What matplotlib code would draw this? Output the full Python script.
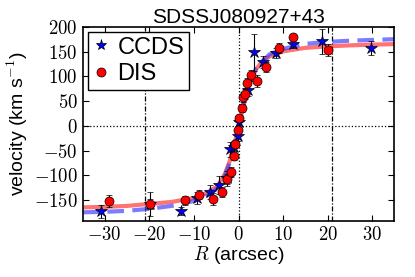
"""Rotation curve of SDSSJ080927+43: CCDS and DIS long-slit velocities."""

import matplotlib

matplotlib.use("Agg")
from matplotlib import pyplot as plt
from matplotlib.lines import Line2D
from matplotlib.ticker import FuncFormatter, MultipleLocator

# CCDS measurements
ccds_r = [-30.8, -19.9, -13.0, -9.3, -6.5, -4.4, -2.6, -1.9, -1.1, -0.2, 0.2, 2.2, 3.4, 5.6, 8.4, 12.3, 18.7, 29.7]
ccds_v = [-173, -158, -172, -146, -134, -119, -106, -47, -42, -21, 7, 73, 149, 130, 147, 166, 171, 157]
ccds_err = [13, 25, 8, 12, 14, 18, 15, 15, 12, 10, 10, 12, 38, 12, 10, 8, 25, 14]

# DIS measurements
dis_r = [-29.0, -19.9, -11.9, -8.9, -5.7, -3.6, -2.5, -1.6, -1.0, -0.7, -0.2, 0.2, 0.7, 1.0, 1.5, 2.0, 2.8, 4.1, 6.2, 9.0, 12.3, 20.0]
dis_v = [-152, -159, -151, -139, -148, -134, -107, -94, -60, -37, -9, 15, 36, 58, 65, 86, 102, 91, 120, 157, 179, 153]
dis_err = [12, 10, 10, 10, 12, 10, 10, 10, 10, 8, 8, 8, 8, 10, 10, 10, 12, 12, 10, 10, 8, 12]

# model curves
model_r = [-35, -30, -25, -20, -15, -10, -7, -5, -4, -3, -2, -1, 0, 1, 2, 3, 4, 5, 7, 10, 15, 20, 25, 30, 35]
dis_model_v = [-165, -164, -162, -158, -154, -146, -135, -124, -113, -96, -72, -40, -2,
               37, 72, 98, 115, 127, 141, 151, 158, 161, 163, 164.5, 165.5]
ccds_model_v = [-175, -174, -172, -168, -162, -152, -141, -128, -117, -100, -75, -40, 0,
                40, 75, 100, 117, 128, 145, 156, 166, 170, 172.5, 174, 175.5]

plt.rcParams["font.family"] = ["Liberation Sans", "DejaVu Sans"]
plt.rcParams["mathtext.fontset"] = "cm"

fig = plt.figure(figsize=(4.15, 2.77), dpi=100)
ax = fig.add_axes([0.2007, 0.2032, 0.748, 0.699])

ax.axhline(0, color="k", ls=":", lw=0.9)
ax.axvline(0, color="k", ls=":", lw=0.9)
for xv in (-21, 21):
    ax.axvline(xv, color="k", ls="-.", lw=0.9, dashes=(4, 1.5, 1, 1.5))

ax.plot(model_r, dis_model_v, color="red", lw=3, alpha=0.55, zorder=2)
ax.plot(model_r, ccds_model_v, color="#4444ff", lw=3, ls="--", alpha=0.7,
        dashes=(4, 2), zorder=2)

ax.errorbar(ccds_r, ccds_v, yerr=ccds_err, fmt="*", color="k", ecolor="k",
            mfc="blue", mec="k", mew=0.5, ms=9, elinewidth=0.8, capsize=2,
            zorder=3)
ax.errorbar(dis_r, dis_v, yerr=dis_err, fmt="o", color="k", ecolor="k",
            mfc="red", mec="k", mew=0.5, ms=6.5, elinewidth=0.8, capsize=2,
            zorder=4)

ax.set_xlim(-34.8, 34.8)
ax.set_ylim(-192, 200)
ax.xaxis.set_major_locator(MultipleLocator(10))
ax.yaxis.set_major_locator(MultipleLocator(50))
math_fmt = FuncFormatter(lambda v, pos: f"${v:g}$")
ax.xaxis.set_major_formatter(math_fmt)
ax.yaxis.set_major_formatter(math_fmt)
ax.tick_params(direction="in", top=True, right=True, length=4, width=0.8,
               labelsize=13.5, pad=4)
for spine in ax.spines.values():
    spine.set_linewidth(1.2)

ax.set_title("SDSSJ080927+43", fontsize=15, pad=3)
ax.set_xlabel("$R$ (arcsec)", fontsize=14, labelpad=0)
ax.set_ylabel("velocity (km s$^{-1}$)", fontsize=14, labelpad=3)

# legend shows bare markers, no error bars
handles = [
    Line2D([], [], ls="none", marker="*", mfc="blue", mec="k", mew=0.5, ms=8),
    Line2D([], [], ls="none", marker="o", mfc="red", mec="k", mew=0.5, ms=6.5),
]
leg = ax.legend(handles, ["CCDS", "DIS"], loc="upper left", numpoints=1,
                fontsize=17, handlelength=0.7, handletextpad=0.35,
                borderpad=0.2, labelspacing=0.2, borderaxespad=0.2,
                fancybox=False, framealpha=1)
leg.get_frame().set_edgecolor("k")
leg.get_frame().set_linewidth(1.0)

fig.savefig("out.png", dpi=100)
